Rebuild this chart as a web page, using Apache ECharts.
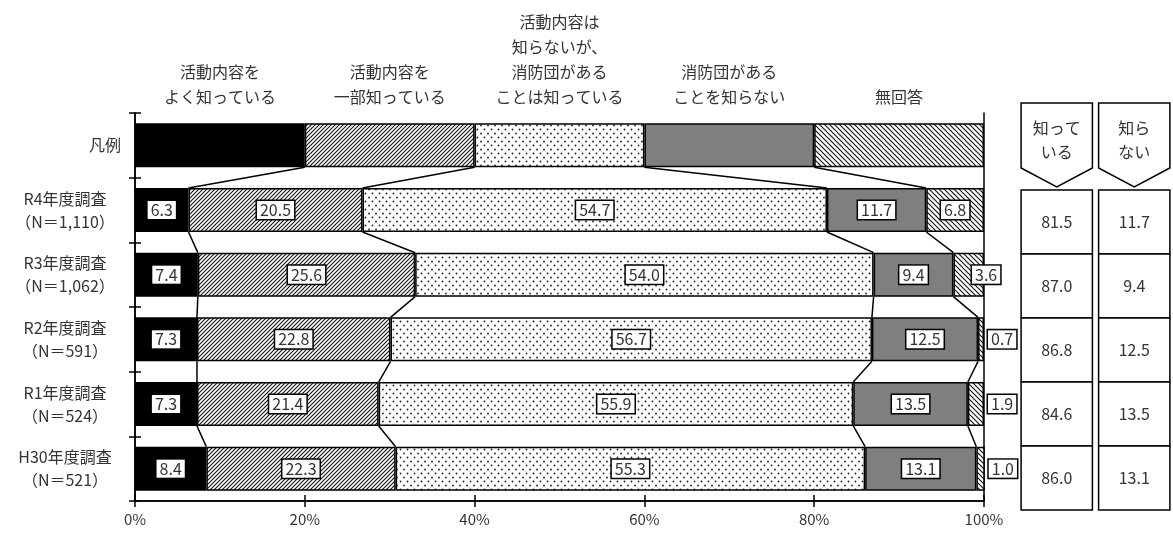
<!DOCTYPE html>
<html>
<head>
<meta charset="utf-8">
<script src="https://cdn.jsdelivr.net/npm/echarts@6/dist/echarts.min.js"></script>
<style>
  html, body { margin: 0; padding: 0; background: #fff; }
  #chart { width: 1173px; height: 535px; }
</style>
</head>
<body>
<div id="chart"></div>
<script>
const categories = ['凡例', 'R4年度調査\n（N＝1,110）', 'R3年度調査\n（N＝1,062）', 'R2年度調査\n（N＝591）', 'R1年度調査\n（N＝524）', 'H30年度調査\n（N＝521）']
const answers = ['活動内容を\nよく知っている', '活動内容を\n一部知っている', '活動内容は\n知らないが、\n消防団がある\nことは知っている', '消防団がある\nことを知らない', '無回答']
const legendRow = [20, 20, 20, 20, 20]
const wellKnown = [6.3, 7.4, 7.3, 7.3, 8.4]
const partlyKnown = [20.5, 25.6, 22.8, 21.4, 22.3]
const existenceOnly = [54.7, 54.0, 56.7, 55.9, 55.3]
const notKnown = [11.7, 9.4, 12.5, 13.5, 13.1]
const noAnswer = [6.8, 3.6, 0.7, 1.9, 1.0]
const tableHeaders = ['知って\nいる', '知ら\nない']
const knownTotal = [81.5, 87.0, 86.8, 84.6, 86.0]
const notKnownTotal = [11.7, 9.4, 12.5, 13.5, 13.1]

const FONT = '"Noto Sans CJK JP", "Noto Sans", sans-serif'
const TEXT = '#333'
const seriesValues = [wellKnown, partlyKnown, existenceOnly, notKnown, noAnswer]

// hatch / dot fills
const hatch = (dir, step) => {
    const c = document.createElement('canvas')
    c.width = step
    c.height = step
    const g = c.getContext('2d')
    g.fillStyle = '#fff'
    g.fillRect(0, 0, step, step)
    g.strokeStyle = '#111'
    g.lineWidth = 1.1
    g.beginPath()
    if (dir === '/') {
        g.moveTo(-1, step + 1); g.lineTo(step + 1, -1)
        g.moveTo(-1, 1); g.lineTo(1, -1)
        g.moveTo(step - 1, step + 1); g.lineTo(step + 1, step - 1)
    } else {
        g.moveTo(-1, -1); g.lineTo(step + 1, step + 1)
        g.moveTo(step - 1, -1); g.lineTo(step + 1, 1)
        g.moveTo(-1, step - 1); g.lineTo(1, step + 1)
    }
    g.stroke()
    return c
}
const dots = () => {
    const c = document.createElement('canvas')
    c.width = 7
    c.height = 8
    const g = c.getContext('2d')
    g.fillStyle = '#fff'
    g.fillRect(0, 0, 7, 8)
    g.fillStyle = '#222'
    g.beginPath(); g.arc(1.5, 1.5, 0.9, 0, Math.PI * 2); g.fill()
    g.beginPath(); g.arc(5, 5.5, 0.9, 0, Math.PI * 2); g.fill()
    return c
}
const fills = [
    '#000',
    { image: hatch('/', 4), repeat: 'repeat' },
    { image: dots(), repeat: 'repeat' },
    '#7f7f7f',
    { image: hatch('\\', 5), repeat: 'repeat' },
]

const rowValues = (r) => r === 0 ? legendRow : seriesValues.map(s => s[r - 1])

// connector lines between neighbouring bars
const connectorData = []
for (let r = 0; r < categories.length - 1; r++) {
    const a = rowValues(r)
    const b = rowValues(r + 1)
    let ca = 0
    let cb = 0
    for (let k = 0; k < 4; k++) {
        ca += a[k]
        cb += b[k]
        connectorData.push([ca, r, cb])
    }
}

// right-hand table cells
const tableCells = []
tableHeaders.forEach((t, i) => tableCells.push({ value: [i, 0], text: t }))
knownTotal.forEach((v, r) => tableCells.push({ value: [0, r + 1], text: v.toFixed(1) }))
notKnownTotal.forEach((v, r) => tableCells.push({ value: [1, r + 1], text: v.toFixed(1) }))

const boxLabel = {
    show: true,
    position: 'inside',
    formatter: (p) => p.value.toFixed(1),
    color: TEXT,
    fontFamily: FONT,
    fontSize: 16,
    backgroundColor: '#fff',
    borderColor: '#000',
    borderWidth: 1.5,
    padding: [2, 3, 0, 3],
}

const barSeries = seriesValues.map((vals, i) => ({
    name: answers[i],
    type: 'bar',
    stack: 'total',
    barWidth: '68%',
    xAxisIndex: 0,
    yAxisIndex: 0,
    itemStyle: { color: fills[i], borderColor: '#000', borderWidth: 1.5 },
    label: boxLabel,
    data: [
        {
            value: legendRow[i],
            label: {
                show: true,
                position: 'top',
                distance: 14,
                formatter: answers[i],
                color: TEXT,
                fontFamily: FONT,
                fontSize: 16,
                lineHeight: 25,
                backgroundColor: 'transparent',
                borderWidth: 0,
                padding: 0,
            },
        },
    ].concat(vals.map(v => {
        if (i === 4 && v < 5) {
            return { value: v, label: { position: 'right', distance: 4, offset: v >= 3 ? [-16, 0] : [0, 0] } }
        }
        return { value: v }
    })),
}))

const chart = echarts.init(document.getElementById('chart'))
chart.setOption({
    animation: false,
    backgroundColor: '#fff',
    grid: [
        { left: 135, right: 189, top: 113, bottom: 34 },
        { left: 1018, width: 160, top: 126, bottom: 25 },
    ],
    xAxis: [
        {
            type: 'value',
            gridIndex: 0,
            position: 'bottom',
            min: 0,
            max: 100,
            interval: 20,
            axisLine: { show: true, lineStyle: { color: '#000', width: 1.5 } },
            axisTick: { show: true, length: 6, lineStyle: { color: '#000', width: 1.5 } },
            axisLabel: { formatter: '{value}%', color: TEXT, fontFamily: FONT, fontSize: 15, margin: 11 },
            splitLine: { show: false },
        },
        {
            type: 'value',
            gridIndex: 0,
            position: 'bottom',
            min: 0,
            max: 100,
            interval: 20,
            axisLine: { show: true, lineStyle: { color: '#000', width: 1.5 } },
            axisTick: { show: true, inside: true, length: 6, lineStyle: { color: '#000', width: 1.5 } },
            axisLabel: { show: false },
            splitLine: { show: false },
        },
        {
            type: 'category',
            gridIndex: 1,
            data: [0, 1],
            show: false,
        },
    ],
    yAxis: [
        {
            type: 'category',
            gridIndex: 0,
            position: 'left',
            inverse: true,
            data: categories,
            axisLine: { show: true, onZero: false, lineStyle: { color: '#000', width: 1.5 } },
            axisTick: { show: true, length: 6, lineStyle: { color: '#000', width: 1.5 } },
            axisLabel: {
                margin: 14,
                formatter: (v) => v.includes('\n')
                    ? v.split('\n').map(s => `{c|${s}}`).join('\n')
                    : `{r|${v}}`,
                rich: {
                    c: { width: 112, align: 'center', color: TEXT, fontFamily: FONT, fontSize: 16, lineHeight: 23 },
                    r: { align: 'right', color: TEXT, fontFamily: FONT, fontSize: 16, lineHeight: 23 },
                },
            },
        },
        {
            type: 'category',
            gridIndex: 0,
            position: 'left',
            inverse: true,
            data: categories,
            axisLine: { show: true, onZero: false, lineStyle: { color: '#000', width: 1.5 } },
            axisTick: { show: true, inside: true, length: 6, lineStyle: { color: '#000', width: 1.5 } },
            axisLabel: { show: false },
        },
        {
            type: 'category',
            gridIndex: 0,
            position: 'right',
            inverse: true,
            data: categories,
            axisLine: { show: true, onZero: false, lineStyle: { color: '#000', width: 1.5 } },
            axisTick: { show: false },
            axisLabel: { show: false },
        },
        {
            type: 'category',
            gridIndex: 1,
            inverse: true,
            data: [0, 1, 2, 3, 4, 5],
            show: false,
        },
    ],
    series: barSeries.concat([
        {
            type: 'custom',
            xAxisIndex: 0,
            yAxisIndex: 0,
            z: 5,
            encode: { x: [0, 2], y: 1 },
            renderItem: (params, api) => {
                const r = api.value(1)
                const p1 = api.coord([api.value(0), r])
                const p2 = api.coord([api.value(2), r + 1])
                const half = api.size([0, 1])[1] * 0.34
                return {
                    type: 'line',
                    shape: { x1: p1[0], y1: p1[1] + half, x2: p2[0], y2: p2[1] - half },
                    style: { stroke: '#000', lineWidth: 1.5 },
                }
            },
            data: connectorData,
        },
        {
            type: 'custom',
            xAxisIndex: 2,
            yAxisIndex: 3,
            encode: { x: 0, y: 1 },
            renderItem: (params, api) => {
                const cell = tableCells[params.dataIndex]
                const row = api.value(1)
                const c = api.coord([api.value(0), row])
                const band = api.size([1, 1])
                const hw = band[0] * 0.46
                const top = c[1] - band[1] / 2
                const bottom = c[1] + band[1] / 2
                if (row === 0) {
                    return {
                        type: 'group',
                        children: [
                            {
                                type: 'polygon',
                                shape: {
                                    points: [
                                        [c[0] - hw, top - 23],
                                        [c[0] + hw, top - 23],
                                        [c[0] + hw, bottom - 22],
                                        [c[0], bottom - 3],
                                        [c[0] - hw, bottom - 22],
                                    ],
                                },
                                style: { fill: '#fff', stroke: '#000', lineWidth: 1.5 },
                            },
                            {
                                type: 'text',
                                style: {
                                    text: cell.text,
                                    x: c[0],
                                    y: top + 14,
                                    align: 'center',
                                    verticalAlign: 'middle',
                                    fill: TEXT,
                                    fontFamily: FONT,
                                    fontSize: 16,
                                    lineHeight: 24,
                                },
                            },
                        ],
                    }
                }
                return {
                    type: 'group',
                    children: [
                        {
                            type: 'rect',
                            shape: { x: c[0] - hw, y: top, width: hw * 2, height: band[1] },
                            style: { fill: '#fff', stroke: '#000', lineWidth: 1.5 },
                        },
                        {
                            type: 'text',
                            style: {
                                text: cell.text,
                                x: c[0],
                                y: c[1],
                                align: 'center',
                                verticalAlign: 'middle',
                                fill: TEXT,
                                fontFamily: FONT,
                                fontSize: 16,
                            },
                        },
                    ],
                }
            },
            data: tableCells,
        },
    ]),
})
window.addEventListener('resize', () => chart.resize())
</script>
</body>
</html>
